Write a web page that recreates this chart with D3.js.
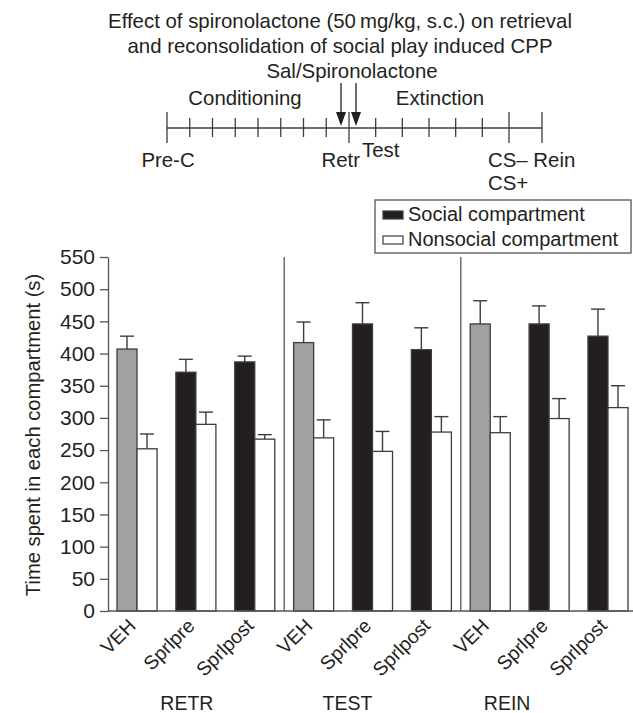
<!DOCTYPE html>
<html>
<head>
<meta charset="utf-8">
<script src="https://cdn.jsdelivr.net/npm/d3@7"></script>
<style>
  body { margin: 0; background: #fff; }
  text { font-family: "Liberation Sans", Arial, sans-serif; fill: #231f20; }
</style>
</head>
<body>
<svg id="my_svg"></svg>
<script>
const width = 633;
const height = 713;

// data
const sections = ['RETR', 'TEST', 'REIN'];
const conditions = ['VEH', 'Sprlpre', 'Sprlpost'];
const seriesNames = ['Social compartment', 'Nonsocial compartment'];
const socialMean = [407, 371, 387, 417, 446, 406, 446, 446, 427];
const socialSem = [20, 20, 9, 32, 33, 34, 36, 28, 42];
const nonsocialMean = [252, 290, 267, 269, 248, 278, 277, 299, 316];
const nonsocialSem = [23, 19, 7, 28, 31, 24, 25, 31, 34];
const yTicks = [0, 50, 100, 150, 200, 250, 300, 350, 400, 450, 500, 550];

// timeline (days)
const tlDays = [0, 8, 14, 15];
const tlSmallTicks = [1, 2, 3, 4, 5, 6, 7, 9, 10, 11, 12, 13];
const titleLines = ['Effect of spironolactone (50\u2009mg/kg, s.c.) on retrieval',
                    'and reconsolidation of social play induced CPP'];

const grey = '#a1a1a4';
const black = '#231f20';
const lineCol = '#3d3d3d';

const svg = d3.select('#my_svg')
    .attr('width', width)
    .attr('height', height);

// ---------- header / timeline ----------
const top_g = svg.append('g').attr('id', 'timeline_g');

top_g.selectAll('.title')
    .data(titleLines)
    .enter().append('text')
    .attr('class', 'title')
    .attr('x', 340)
    .attr('y', (d, i) => 28 + 25 * i)
    .attr('text-anchor', 'middle')
    .attr('font-size', 20.4)
    .text(d => d);

const tl = d3.scaleLinear()
    .domain(tlDays)
    .range([167, 349, 509, 542]);
const tlY = 128;

top_g.append('line')
    .attr('x1', tl(0)).attr('x2', tl(15))
    .attr('y1', tlY).attr('y2', tlY)
    .attr('stroke', lineCol).attr('stroke-width', 1.3);

top_g.selectAll('.bigtick')
    .data(tlDays)
    .enter().append('line')
    .attr('x1', d => tl(d)).attr('x2', d => tl(d))
    .attr('y1', tlY - 16).attr('y2', tlY + 15)
    .attr('stroke', lineCol).attr('stroke-width', 1.3);

top_g.selectAll('.smalltick')
    .data(tlSmallTicks)
    .enter().append('line')
    .attr('x1', d => tl(d)).attr('x2', d => tl(d))
    .attr('y1', tlY - 10).attr('y2', tlY + 9)
    .attr('stroke', lineCol).attr('stroke-width', 1.3);

// arrows (injections around retrieval)
[tl(8) - 8, tl(8) + 7].forEach(ax => {
    top_g.append('line')
        .attr('x1', ax).attr('x2', ax)
        .attr('y1', 83).attr('y2', 114)
        .attr('stroke', black).attr('stroke-width', 1.3);
    top_g.append('path')
        .attr('d', `M${ax - 5},112 L${ax + 5},112 L${ax},126 Z`)
        .attr('fill', black);
});

const tlText = [
    {t: 'Sal/Spironolactone', x: tl(8) + 3, y: 78, a: 'middle'},
    {t: 'Conditioning', x: (tl(0) + tl(8)) / 2 - 13, y: 105, a: 'middle'},
    {t: 'Extinction', x: (tl(8) + tl(14)) / 2 + 11, y: 105, a: 'middle'},
    {t: 'Pre-C', x: tl(0) + 1, y: 167, a: 'middle'},
    {t: 'Retr', x: tl(8) + 11, y: 167, a: 'end'},
    {t: 'Test', x: tl(8) + 13, y: 157, a: 'start'},
    {t: 'CS\u2013 Rein', x: tl(14) - 21, y: 167, a: 'start'},
    {t: 'CS+', x: tl(14) - 21, y: 190, a: 'start'}
];
top_g.selectAll('.tltext')
    .data(tlText)
    .enter().append('text')
    .attr('x', d => d.x)
    .attr('y', d => d.y)
    .attr('text-anchor', d => d.a)
    .attr('font-size', 20.4)
    .text(d => d.t);

// ---------- bar chart ----------
const groups = [];
sections.forEach((s, si) => conditions.forEach((c, ci) => {
    const i = si * conditions.length + ci;
    groups.push({
        key: s + '_' + c, section: s, cond: c, idx: i,
        social: socialMean[i], socialErr: socialSem[i],
        nonsocial: nonsocialMean[i], nonsocialErr: nonsocialSem[i]
    });
}));

const x = d3.scaleBand()
    .domain(groups.map(d => d.key))
    .range([108, 637])
    .paddingInner(0.32)
    .paddingOuter(0.153);

const xSub = d3.scaleBand()
    .domain(['social', 'nonsocial'])
    .range([0, x.bandwidth()]);

const y = d3.scaleLinear()
    .domain([0, 550])
    .range([611, 257]);

const chart_g = svg.append('g').attr('id', 'chart_g');

// section dividers
const dividerX = [2, 5].map(i => x(groups[i].key) + x.bandwidth() + x.step() * x.paddingInner() / 2);
chart_g.selectAll('.divider')
    .data(dividerX)
    .enter().append('line')
    .attr('x1', d => d).attr('x2', d => d)
    .attr('y1', y(550)).attr('y2', y(0))
    .attr('stroke', '#555').attr('stroke-width', 1.3);

const bars = [];
groups.forEach(g => {
    bars.push({g: g, kind: 'social', v: g.social, e: g.socialErr,
               fill: g.cond === 'VEH' ? grey : black});
    bars.push({g: g, kind: 'nonsocial', v: g.nonsocial, e: g.nonsocialErr, fill: '#fff'});
});

// error bars (upward only)
const err_g = chart_g.append('g').attr('id', 'err_g');
bars.forEach(b => {
    const cx = x(b.g.key) + xSub(b.kind) + xSub.bandwidth() / 2;
    err_g.append('line')
        .attr('x1', cx).attr('x2', cx)
        .attr('y1', y(b.v)).attr('y2', y(b.v + b.e))
        .attr('stroke', lineCol).attr('stroke-width', 1.4);
    err_g.append('line')
        .attr('x1', cx - 7).attr('x2', cx + 7)
        .attr('y1', y(b.v + b.e)).attr('y2', y(b.v + b.e))
        .attr('stroke', lineCol).attr('stroke-width', 1.4);
});

chart_g.append('g')
    .attr('id', 'bars_g')
    .selectAll('rect')
    .data(bars)
    .enter().append('rect')
    .attr('x', d => x(d.g.key) + xSub(d.kind))
    .attr('y', d => y(d.v))
    .attr('width', xSub.bandwidth())
    .attr('height', d => y(0) - y(d.v))
    .attr('fill', d => d.fill)
    .attr('stroke', lineCol)
    .attr('stroke-width', 1.3);

// y axis
const yAxis = chart_g.append('g')
    .attr('transform', 'translate(108,0)')
    .call(d3.axisLeft(y).tickValues(yTicks).tickSize(8).tickPadding(5).tickSizeOuter(0));
yAxis.selectAll('text')
    .attr('font-size', 21)
    .style('font-family', '"Liberation Sans", Arial, sans-serif')
    .attr('fill', black);
yAxis.selectAll('line, path').attr('stroke', '#555').attr('stroke-width', 1.3);

// x axis line
chart_g.append('line')
    .attr('x1', 108).attr('x2', width)
    .attr('y1', y(0)).attr('y2', y(0))
    .attr('stroke', '#555').attr('stroke-width', 1.3);

// rotated condition labels
chart_g.selectAll('.condlabel')
    .data(groups)
    .enter().append('text')
    .attr('class', 'condlabel')
    .attr('transform', d => `translate(${x(d.key) + x.bandwidth() / 2},${627}) rotate(-45)`)
    .attr('text-anchor', 'end')
    .attr('font-size', 19.5)
    .text(d => d.cond);

// section labels
const sectionOffset = [-9, -25, -42];
chart_g.selectAll('.seclabel')
    .data(sections)
    .enter().append('text')
    .attr('x', (d, i) => {
        const first = x(groups[i * 3].key);
        const last = x(groups[i * 3 + 2].key) + x.bandwidth();
        return (first + last) / 2 + sectionOffset[i];
    })
    .attr('y', 710)
    .attr('text-anchor', 'middle')
    .attr('font-size', 19.5)
    .text(d => d);

// y axis title
svg.append('text')
    .attr('transform', `translate(40,${(y(0) + y(550)) / 2 + 1}) rotate(-90)`)
    .attr('text-anchor', 'middle')
    .attr('font-size', 20.2)
    .text('Time spent in each compartment (s)');

// legend
const legend_g = svg.append('g').attr('id', 'legend_g');
legend_g.append('rect')
    .attr('x', 375).attr('y', 200)
    .attr('width', 256).attr('height', 53)
    .attr('fill', '#fff')
    .attr('stroke', '#555').attr('stroke-width', 1.3);

const leg = legend_g.selectAll('.leg')
    .data(seriesNames)
    .enter().append('g')
    .attr('transform', (d, i) => `translate(383,${211 + 25 * i})`);
leg.append('rect')
    .attr('width', 20).attr('height', 8)
    .attr('fill', (d, i) => i === 0 ? black : '#fff')
    .attr('stroke', lineCol).attr('stroke-width', 1.2);
leg.append('text')
    .attr('x', 25).attr('y', 10)
    .attr('font-size', 20)
    .text(d => d);
</script>
</body>
</html>
